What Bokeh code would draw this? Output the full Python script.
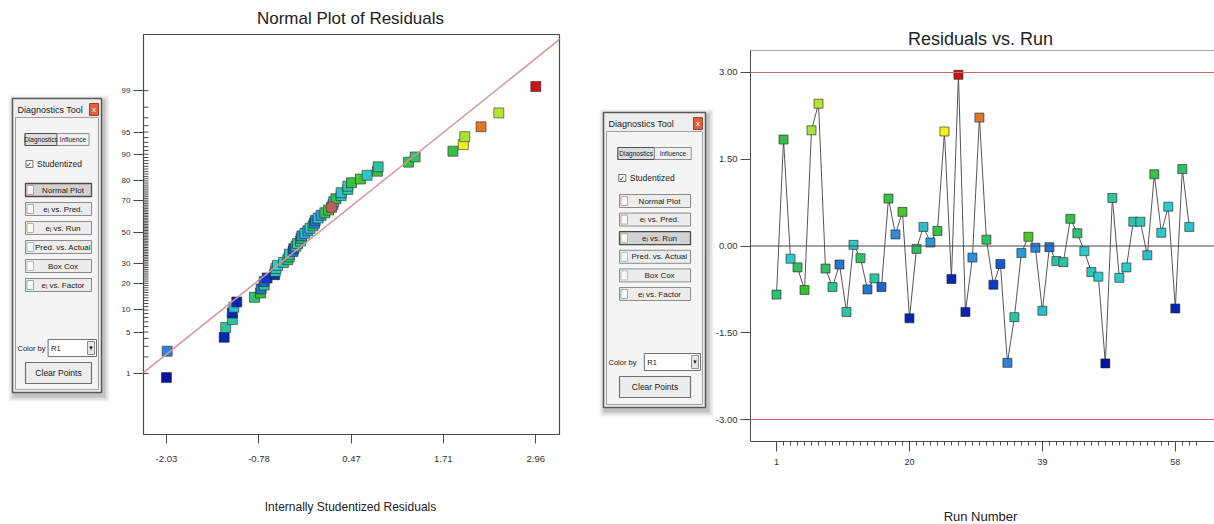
from statistics import NormalDist
from bokeh.plotting import figure
from bokeh.models import (FixedTicker, NumeralTickFormatter, Span, Slope,
                          ColumnDataSource, LinearColorMapper, Range1d)
from bokeh.embed import file_html
from bokeh.resources import INLINE
from bokeh.core.properties import value

# ---------------- data ----------------
run_numbers = list(range(1, 61))
residuals = [-0.84, 1.84, -0.22, -0.37, -0.76, 2.00, 2.46, -0.39, -0.71, -0.32,
             -1.14, 0.02, -0.21, -0.75, -0.56, -0.71, 0.82, 0.20, 0.59, -1.25,
             -0.05, 0.33, 0.06, 0.26, 1.98, -0.57, 2.96, -1.14, -0.20, 2.22,
             0.11, -0.67, -0.31, -2.02, -1.23, -0.12, 0.16, -0.03, -1.12, -0.02,
             -0.26, -0.28, 0.47, 0.22, -0.09, -0.45, -0.53, -2.03, 0.83, -0.55,
             -0.37, 0.42, 0.42, -0.16, 1.24, 0.23, 0.68, -1.08, 1.33, 0.33]
# relative R1 response used for "Color by R1"
r1_level = [0.50, 0.55, 0.40, 0.52, 0.58, 0.70, 0.72, 0.52, 0.47, 0.25,
            0.45, 0.40, 0.52, 0.25, 0.45, 0.22, 0.55, 0.30, 0.60, 0.10,
            0.52, 0.38, 0.32, 0.55, 0.80, 0.10, 1.00, 0.10, 0.30, 0.90,
            0.52, 0.15, 0.20, 0.28, 0.45, 0.32, 0.60, 0.28, 0.38, 0.25,
            0.45, 0.45, 0.55, 0.50, 0.40, 0.42, 0.40, 0.05, 0.45, 0.40,
            0.40, 0.43, 0.43, 0.38, 0.55, 0.40, 0.40, 0.10, 0.52, 0.38]
prob_ticks = [1, 5, 10, 20, 30, 50, 70, 80, 90, 95, 99]
normal_x_ticks = [-2.03, -0.78, 0.47, 1.71, 2.96]
run_ticks = [1, 20, 39, 58]
resid_ticks = [-3.0, -1.5, 0.0, 1.5, 3.0]
control_limit = 3.0
fit_slope = 0.975
fit_intercept = -0.03
highlight_run = 18

# ---------------- derived ----------------
nd = NormalDist()
n = len(residuals)
order = sorted(range(n), key=lambda i: residuals[i])
norm_x = [residuals[i] for i in order]
norm_z = [nd.inv_cdf((k + 0.5) / n) for k in range(n)]
norm_lvl = [r1_level[i] for i in order]
hl_rank = order.index(highlight_run - 1)

def hex2rgb(h):
    return tuple(int(h[i:i + 2], 16) for i in (1, 3, 5))

stops = [(0.0, "#00008c"), (0.15, "#0a3cc8"), (0.3, "#2f8fd8"), (0.4, "#2ec8c8"),
         (0.5, "#2fbf7a"), (0.58, "#3cbf2c"), (0.7, "#a8e03a"), (0.8, "#f2f020"),
         (0.9, "#e0782a"), (1.0, "#c81414")]
palette = []
for k in range(256):
    t = k / 255
    for j in range(len(stops) - 1):
        t0, c0 = stops[j]
        t1, c1 = stops[j + 1]
        if t0 <= t <= t1:
            f = (t - t0) / (t1 - t0)
            a, b = hex2rgb(c0), hex2rgb(c1)
            palette.append("#%02x%02x%02x" % tuple(round(a[m] + (b[m] - a[m]) * f) for m in range(3)))
            break
cmap = LinearColorMapper(palette=palette, low=0, high=1)

FONT = "Liberation Sans"
AX = "#4a4a4a"

def place(fig, left):
    fig.styles = {"position": "absolute", "left": f"{left}px", "top": "0px"}

def style_axes(p):
    for ax in (p.xaxis[0], p.yaxis[0]):
        ax.axis_line_color = AX
        ax.major_tick_line_color = AX
        ax.minor_tick_line_color = AX
        ax.major_label_text_font = FONT
        ax.major_label_text_color = "#333333"

# ---------------- background page: titles, axis titles, tool panels ----------------
bg = figure(width=1214, height=524, x_range=Range1d(0, 1214), y_range=Range1d(524, 0),
            output_backend="svg", toolbar_location=None,
            min_border_left=0, min_border_right=0, min_border_top=0, min_border_bottom=0)
bg.axis.visible = False
bg.grid.visible = False
bg.outline_line_color = None
place(bg, 0)

def txt(x, y, s, size="8px", align="center", color="#1a1a1a"):
    bg.text(x=[x], y=[y], text=[s], text_font=value(FONT), text_font_size=size,
            text_align=align, text_baseline="middle", text_color=color)

def box(l, t, r, b, fill, line="#8a8a8a", lw=1, alpha=1.0):
    bg.quad(left=[l], right=[r], top=[t], bottom=[b], fill_color=fill, fill_alpha=alpha,
            line_color=line, line_width=lw)

txt(350, 18, "Normal Plot of Residuals", "17px", color="#222222")
txt(350, 506, "Internally Studentized Residuals", "12px", color="#222222")
txt(980, 38, "Residuals vs. Run", "18px", color="#222222")
txt(980, 516, "Run Number", "13px", color="#222222")

BTN_LABELS = ["Normal Plot", "eᵢ vs. Pred.", "eᵢ vs. Run", "Pred. vs. Actual", "Box Cox", "eᵢ vs. Factor"]
ICON_COLORS = ["#c9a0a0", "#b8a0b8", "#b0b890", "#a8c0c8", "#c0c0c0", "#90b0b0"]

def draw_panel(L, T, R, B, bx0, bx1, by0, bstep, pressed):
    for k, a in ((6, 0.06), (4, 0.08), (2, 0.12)):
        box(L - k + 2, T - k + 3, R + k + 2, B + k + 3, "#000000", line=None, alpha=a)
    box(L, T, R, B, "#eeeeee", line="#5a5a5a", lw=1.5)
    box(L + 3, T + 19, R - 3, B - 3, "#f4f4f4", line="#a0a0a0")
    txt(L + 5, T + 11, "Diagnostics Tool", "9px", align="left")
    box(R - 12, T + 5, R - 3, T + 17, "#e0603c", line="#a04030")
    txt(R - 7.5, T + 11, "x", "8px", color="#ffffff")
    w = R - L
    tx0, tx1, tx2 = L + 0.14 * w, L + 0.50 * w, L + 0.86 * w
    box(tx0, T + 35, tx1, T + 47, "#dcdcdc", line="#505050", lw=1.2)
    box(tx1, T + 35, tx2, T + 47, "#f0f0f0", line="#909090")
    txt((tx0 + tx1) / 2, T + 41, "Diagnostics", "6.5px")
    txt((tx1 + tx2) / 2, T + 41, "Influence", "6.5px")
    cx = tx0 + 1
    box(cx, T + 62, cx + 7, T + 69, "#ffffff", line="#707070")
    txt(cx + 3.5, T + 65.5, "✓", "7px")
    txt(cx + 11, T + 65.5, "Studentized", "8.5px", align="left")
    for k, lab in enumerate(BTN_LABELS):
        y0 = by0 + k * bstep
        pr = (k == pressed)
        box(bx0, y0, bx1, y0 + 13, "#d2d2d2" if pr else "#ececec",
            line="#4a4a4a" if pr else "#8c8c8c", lw=1.3 if pr else 1)
        box(bx0 + 1.5, y0 + 2, bx0 + 8, y0 + 11, "#f8f8f8", line=ICON_COLORS[k])
        txt((bx0 + 9 + bx1) / 2, y0 + 6.5, lab, "8px")
    txt(L + 5, T + 250, "Color by", "7.5px", align="left")
    dl = L + 0.40 * w
    box(dl, T + 241, R - 5, T + 258, "#ffffff", line="#707070")
    txt(dl + 3, T + 249.5, "R1", "7.5px", align="left")
    box(R - 14, T + 243, R - 7, T + 256, "#e6e6e6", line="#909090")
    txt(R - 10.5, T + 249.5, "▼", "6px")
    box(bx0, T + 264, bx1, T + 285, "#ececec", line="#707070", lw=1.2)
    txt((bx0 + bx1) / 2, T + 274.5, "Clear Points", "8.5px")

draw_panel(12, 98, 101, 392, 25, 91, 183, 19, 0)
draw_panel(603, 112, 705, 407, 619, 690, 194, 18.6, 2)

# ---------------- Normal plot ----------------
x1 = Range1d(-2.34, 3.28)
p1 = figure(width=560, height=524, x_range=x1, y_range=Range1d(-3.33, 3.25),
            output_backend="svg", toolbar_location=None,
            min_border_left=113, min_border_right=31, min_border_top=34, min_border_bottom=90)
place(p1, 30)
p1.border_fill_color = None
p1.grid.visible = False
p1.outline_line_color = AX
p1.outline_line_width = 1.2
zt = [nd.inv_cdf(pv / 100) for pv in prob_ticks]
minor_z = [nd.inv_cdf(pv / 100) for pv in range(1, 100)]
p1.yaxis.ticker = FixedTicker(ticks=zt, minor_ticks=[])
p1.yaxis.major_label_overrides = {z: str(pv) for z, pv in zip(zt, prob_ticks)}
p1.yaxis.major_tick_out = 10
p1.yaxis.major_tick_in = 0
p1.yaxis.major_label_standoff = 3
p1.yaxis.major_label_text_font_size = "8px"
p1.xaxis.ticker = FixedTicker(ticks=normal_x_ticks, minor_ticks=[])
p1.xaxis.formatter = NumeralTickFormatter(format="0.00")
p1.xaxis.major_tick_out = 9
p1.xaxis.major_tick_in = 0
p1.xaxis.major_label_standoff = 12
p1.xaxis.major_label_text_font_size = "9.5px"
style_axes(p1)
p1.ray(x=[x1.start] * len(minor_z), y=minor_z, length=5, length_units="screen", angle=0,
       line_color=AX, line_width=1)
p1.add_layout(Slope(gradient=fit_slope, y_intercept=fit_intercept, line_color="#d99595", line_width=1.5))
src1 = ColumnDataSource(dict(x=norm_x, z=norm_z, lvl=norm_lvl))
p1.scatter("x", "z", source=src1, marker="square", size=10,
           fill_color={"field": "lvl", "transform": cmap}, line_color="#202020", line_alpha=0.55, line_width=1)
p1.scatter(x=[norm_x[hl_rank]], y=[norm_z[hl_rank]], marker="circle", size=11,
           fill_color="#b8605e", line_color="#8a4040", line_width=1)

# ---------------- Residuals vs Run ----------------
p2 = figure(width=504, height=524, x_range=Range1d(-2.72, 63.6), y_range=Range1d(-3.38, 3.38),
            output_backend="svg", toolbar_location=None,
            min_border_left=40, min_border_right=0, min_border_top=50, min_border_bottom=83)
place(p2, 710)
p2.border_fill_color = None
p2.grid.visible = False
p2.outline_line_color = None
p2.add_layout(Span(location=3.38, dimension="width", line_color=AX, line_width=1.2))
p2.yaxis.ticker = FixedTicker(ticks=resid_ticks, minor_ticks=[])
p2.yaxis.formatter = NumeralTickFormatter(format="0.00")
p2.yaxis.major_tick_out = 10
p2.yaxis.major_tick_in = 0
p2.yaxis.major_label_standoff = 3
p2.yaxis.major_label_text_font_size = "9.5px"
p2.xaxis.ticker = FixedTicker(ticks=run_ticks, minor_ticks=run_numbers + [61])
p2.xaxis.major_tick_out = 10
p2.xaxis.major_tick_in = 0
p2.xaxis.minor_tick_out = 4
p2.xaxis.minor_tick_in = 0
p2.xaxis.major_label_standoff = 7
p2.xaxis.major_label_text_font_size = "9px"
style_axes(p2)
for loc, col in ((control_limit, "#c46a6a"), (-control_limit, "#c46a6a"), (0.0, "#444444")):
    p2.add_layout(Span(location=loc, dimension="width", line_color=col, line_width=1.2))
src2 = ColumnDataSource(dict(run=run_numbers, r=residuals, lvl=r1_level))
p2.line("run", "r", source=src2, line_color="#555555", line_width=1)
p2.scatter("run", "r", source=src2, marker="square", size=9,
           fill_color={"field": "lvl", "transform": cmap}, line_color="#202020", line_alpha=0.6, line_width=1)

open("out.html", "w").write(file_html([bg, p1, p2], INLINE))
